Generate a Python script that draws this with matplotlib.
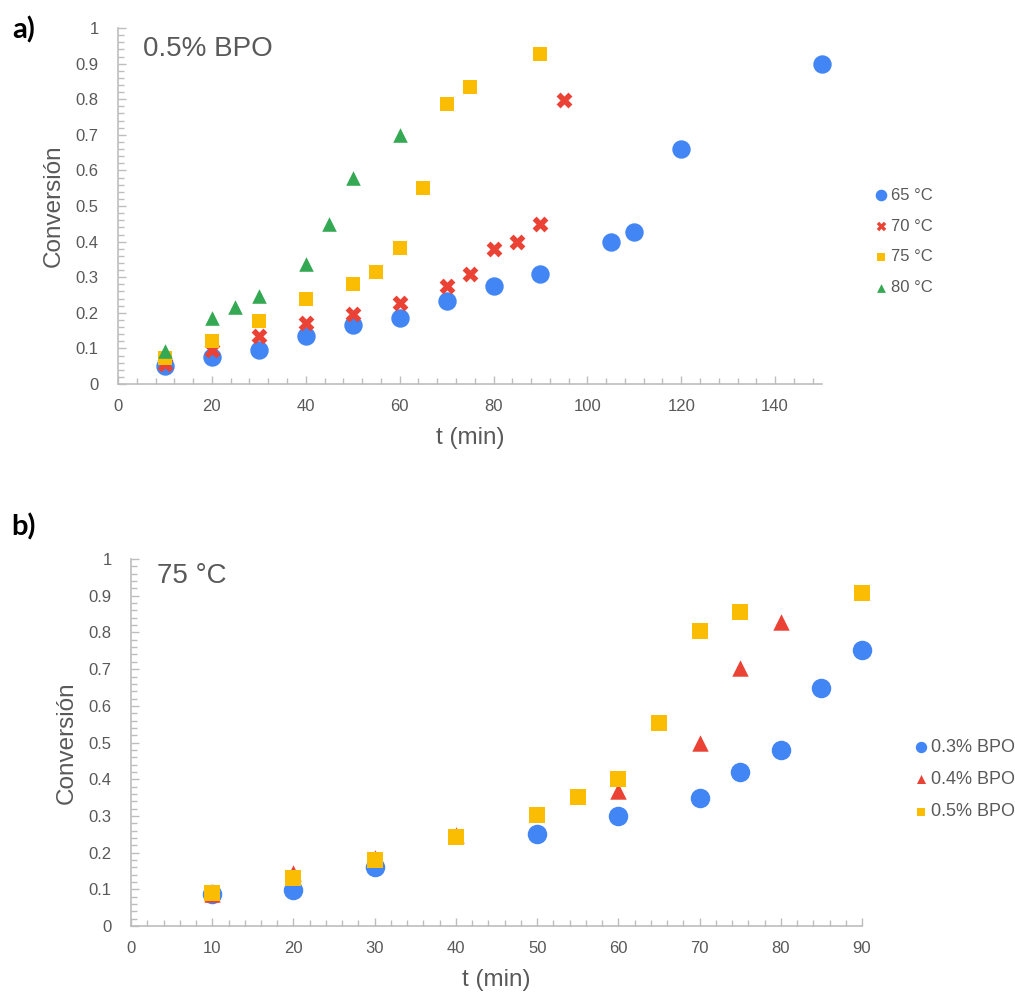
import matplotlib
matplotlib.use("Agg")
import matplotlib.pyplot as plt
from matplotlib.ticker import MultipleLocator

plt.rcParams['font.family'] = ['Liberation Sans', 'DejaVu Sans']

# Panel a) 0.5% BPO, different temperatures
t65 = [10, 20, 30, 40, 50, 60, 70, 80, 90, 105, 110, 120, 150]
x65 = [0.05, 0.075, 0.095, 0.136, 0.165, 0.185, 0.234, 0.276, 0.309, 0.40, 0.428, 0.659, 0.90]
t70 = [10, 20, 30, 40, 50, 60, 70, 75, 80, 85, 90, 95]
x70 = [0.055, 0.095, 0.136, 0.172, 0.197, 0.227, 0.276, 0.309, 0.378, 0.40, 0.449, 0.798]
t75 = [10, 20, 30, 40, 50, 55, 60, 65, 70, 75, 90]
x75 = [0.072, 0.121, 0.178, 0.24, 0.281, 0.314, 0.383, 0.552, 0.786, 0.835, 0.926]
t80 = [10, 20, 25, 30, 40, 45, 50, 60]
x80 = [0.094, 0.185, 0.217, 0.247, 0.337, 0.449, 0.58, 0.699]

# Panel b) 75 C, different BPO loadings
t03 = [10, 20, 30, 50, 60, 70, 75, 80, 85, 90]
x03 = [0.086, 0.098, 0.16, 0.25, 0.299, 0.348, 0.419, 0.48, 0.649, 0.751]
t04 = [10, 20, 30, 40, 60, 70, 75, 80]
x04 = [0.088, 0.144, 0.186, 0.248, 0.368, 0.50, 0.702, 0.828]
t05 = [10, 20, 30, 40, 50, 55, 60, 65, 70, 75, 90]
x05 = [0.089, 0.132, 0.18, 0.242, 0.303, 0.352, 0.402, 0.554, 0.805, 0.855, 0.908]

BLUE = '#4285F4'
RED = '#EA4335'
YELLOW = '#FBBC04'
GREEN = '#34A853'
TXT = '#595959'
AXC = '#BDBDBD'


def style_axes(ax, xmax, xmajor, xminor):
    ax.set_xlim(0, xmax)
    ax.set_ylim(0, 1)
    for s in ['top', 'right']:
        ax.spines[s].set_visible(False)
    for s in ['left', 'bottom']:
        ax.spines[s].set_color(AXC)
        ax.spines[s].set_linewidth(1.2)
    ax.xaxis.set_major_locator(MultipleLocator(xmajor))
    ax.xaxis.set_minor_locator(MultipleLocator(xminor))
    ax.yaxis.set_major_locator(MultipleLocator(0.1))
    ax.yaxis.set_minor_locator(MultipleLocator(0.02))
    ax.yaxis.set_major_formatter(plt.FuncFormatter(lambda v, p: f'{v:g}'))
    ax.tick_params(which='both', direction='in', color=AXC, labelcolor=TXT,
                   labelsize=12, width=1)
    ax.tick_params(which='major', length=6)
    ax.tick_params(which='minor', length=4)
    ax.tick_params(axis='x', which='major', pad=11)
    ax.tick_params(axis='y', which='major', pad=14)
    ax.set_ylabel('Conversión', fontsize=17.5, color=TXT, labelpad=8)
    ax.set_xlabel('t (min)', fontsize=17.5, color=TXT, labelpad=9)


fig = plt.figure(figsize=(10.15, 9.98), dpi=100)

# ---- a)
ax1 = fig.add_axes([0.1163, 0.6152, 0.6936, 0.3567])
ax1.scatter(t65, x65, s=150, marker='o', color=BLUE, label='65 °C', zorder=3, clip_on=False)
ax1.scatter(t70, x70, s=130, marker='X', color=RED, linewidths=0, label='70 °C', zorder=4, clip_on=False)
ax1.scatter(t75, x75, s=100, marker='s', color=YELLOW, linewidths=0, label='75 °C', zorder=5, clip_on=False)
ax1.scatter(t80, x80, s=110, marker='^', color=GREEN, linewidths=0, label='80 °C', zorder=6, clip_on=False)
style_axes(ax1, 150, 20, 4)
ax1.text(0.035, 0.94, '0.5% BPO', transform=ax1.transAxes, fontsize=20,
         color=TXT, va='center', ha='left')
ax1.legend(loc='center left', bbox_to_anchor=(0.853, 0.758),
           bbox_transform=fig.transFigure, frameon=False, fontsize=12,
           markerscale=0.6, handlelength=0.8, handletextpad=0.2,
           labelspacing=0.95, borderpad=0, labelcolor=TXT)

# ---- b)
ax2 = fig.add_axes([0.1291, 0.0721, 0.7202, 0.3677])
ax2.scatter(t03, x03, s=170, marker='o', color=BLUE, label='0.3% BPO', zorder=3, clip_on=False)
ax2.scatter(t04, x04, s=140, marker='^', color=RED, linewidths=0, label='0.4% BPO', zorder=4, clip_on=False)
ax2.scatter(t05, x05, s=120, marker='s', color=YELLOW, linewidths=0, label='0.5% BPO', zorder=5, clip_on=False)
style_axes(ax2, 90, 10, 2)
ax2.text(0.035, 0.955, '75 °C', transform=ax2.transAxes, fontsize=20,
         color=TXT, va='center', ha='left')
ax2.legend(loc='center left', bbox_to_anchor=(0.891, 0.219),
           bbox_transform=fig.transFigure, frameon=False, fontsize=13,
           markerscale=0.55, handlelength=0.8, handletextpad=0.2,
           labelspacing=0.85, borderpad=0, labelcolor=TXT)

fig.text(0.023, 0.970, 'a)', fontsize=21, fontweight='bold', family='Lato',
         ha='center', va='center')
fig.text(0.023, 0.472, 'b)', fontsize=21, fontweight='bold', family='Lato',
         ha='center', va='center')

fig.savefig('out.png', dpi=100)
